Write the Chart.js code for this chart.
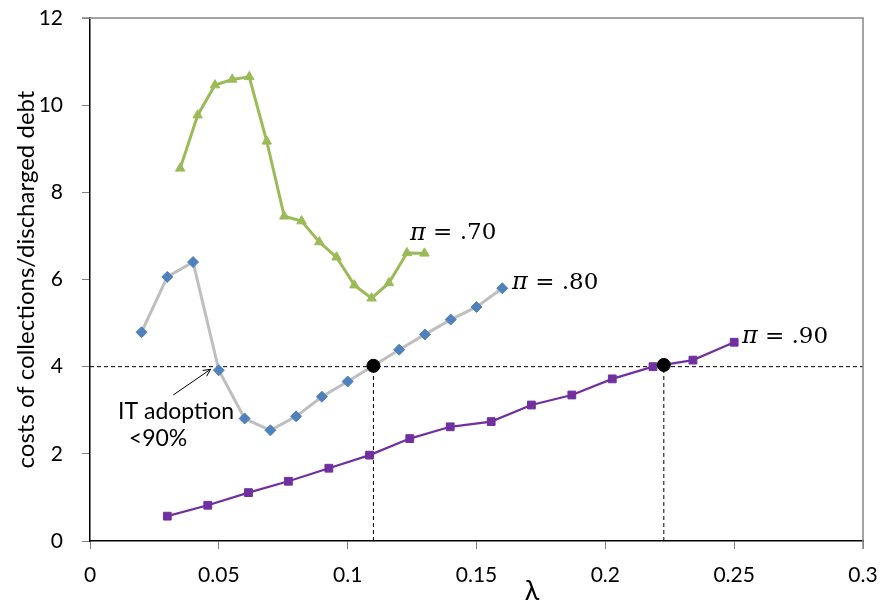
<!DOCTYPE html>
<html lang="en">
<head>
    <meta charset="UTF-8" />
    <title>Costs of collections</title>
    <script src="https://cdn.jsdelivr.net/npm/chart.js"></script>
    <style>
        html, body {
          margin: 0;
          padding: 0;
          background: #ffffff;
        }

        .chart-container {
          width: 881px;
          height: 603px;
        }
    </style>
</head>
<body>

<div class="chart-container">
    <canvas id="costChart"></canvas>
</div>

<script>
    // pi = .70 series (green triangles)
    const lambda70 = [0.035, 0.0418, 0.0485, 0.0552, 0.0618, 0.0686, 0.0754, 0.0821, 0.089, 0.0957, 0.1026, 0.1093, 0.116, 0.123, 0.1298];
    const cost70 = [8.55, 9.77, 10.46, 10.59, 10.65, 9.17, 7.45, 7.34, 6.86, 6.51, 5.87, 5.57, 5.92, 6.61, 6.60];

    // pi = .80 series (blue diamonds on grey line)
    const lambda80 = [0.02, 0.03, 0.04, 0.05, 0.06, 0.07, 0.08, 0.09, 0.10, 0.11, 0.12, 0.13, 0.14, 0.15, 0.16];
    const cost80 = [4.79, 6.06, 6.40, 3.92, 2.81, 2.54, 2.86, 3.31, 3.66, 4.02, 4.39, 4.74, 5.08, 5.37, 5.80];

    // pi = .90 series (purple squares)
    const lambda90 = [0.03, 0.0457, 0.0615, 0.077, 0.0927, 0.1085, 0.1241, 0.1398, 0.1557, 0.1713, 0.187, 0.2027, 0.2185, 0.234, 0.25];
    const cost90 = [0.57, 0.82, 1.11, 1.37, 1.67, 1.97, 2.35, 2.62, 2.74, 3.12, 3.35, 3.72, 4.00, 4.15, 4.56];

    // threshold crossings (black dots) and the cost = 4 guide
    const crossLambda = [0.11, 0.2227];
    const crossCost = [4.02, 4.04];
    const thresholdCost = 4;

    const xTickLabels = ['0', '0.05', '0.1', '0.15', '0.2', '0.25', '0.3'];
    const yTickLabels = ['0', '2', '4', '6', '8', '10', '12'];

    const seriesLabels = ['π = .70', 'π = .80', 'π = .90'];

    function toPoints(xs, ys) {
      return xs.map((x, i) => ({ x: x, y: ys[i] }));
    }

    // drop the label overhang padding so the plot box sits where we want it
    function noOverhang(scale) {
      scale.paddingTop = 0;
      scale.paddingBottom = 0;
      scale.paddingLeft = 0;
      scale.paddingRight = 0;
    }

    const guideStyle = {
      borderColor: '#000000',
      borderWidth: 1,
      borderDash: [4, 3],
      pointRadius: 0,
      showLine: true,
      fill: false
    };

    // extra drawing: frame, series labels, annotation arrow, x title
    const extrasPlugin = {
      id: 'extras',
      afterDatasetsDraw(chart) {
        const ctx = chart.ctx;
        const a = chart.chartArea;
        const xs = chart.scales.x;
        const ys = chart.scales.y;
        ctx.save();

        // grey top / right frame
        ctx.strokeStyle = '#868686';
        ctx.lineWidth = 1.5;
        ctx.beginPath();
        ctx.moveTo(a.left - 8, a.top);
        ctx.lineTo(a.right, a.top);
        ctx.lineTo(a.right, a.bottom + 8);
        ctx.stroke();

        // series labels
        const labelAt = [[0.1242, 7.06], [0.1638, 5.92], [0.253, 4.68]];
        ctx.fillStyle = '#000000';
        ctx.textBaseline = 'middle';
        ctx.textAlign = 'left';
        seriesLabels.forEach((txt, i) => {
          let px = xs.getPixelForValue(labelAt[i][0]);
          const py = ys.getPixelForValue(labelAt[i][1]);
          ctx.font = 'italic 24px "DejaVu Serif"';
          ctx.fillText(txt.charAt(0), px, py);
          px += ctx.measureText(txt.charAt(0)).width;
          ctx.font = '23px "DejaVu Serif"';
          ctx.fillText(txt.slice(1), px, py);
        });

        // IT adoption note
        ctx.font = '23px Lato';
        ctx.textAlign = 'center';
        ctx.fillText('IT adoption', xs.getPixelForValue(0.0334), ys.getPixelForValue(2.96));
        ctx.fillText('<90%', xs.getPixelForValue(0.0264), ys.getPixelForValue(2.36));

        // arrow to the 0.05 point
        const x1 = xs.getPixelForValue(0.0323), y1 = ys.getPixelForValue(3.35);
        const x2 = xs.getPixelForValue(0.0468), y2 = ys.getPixelForValue(3.94);
        const ang = Math.atan2(y2 - y1, x2 - x1);
        ctx.strokeStyle = '#000000';
        ctx.lineWidth = 1;
        ctx.beginPath();
        ctx.moveTo(x1, y1);
        ctx.lineTo(x2, y2);
        ctx.moveTo(x2 - 8 * Math.cos(ang - 0.45), y2 - 8 * Math.sin(ang - 0.45));
        ctx.lineTo(x2, y2);
        ctx.lineTo(x2 - 8 * Math.cos(ang + 0.45), y2 - 8 * Math.sin(ang + 0.45));
        ctx.stroke();

        // x axis title
        ctx.font = '27px Lato';
        ctx.textBaseline = 'alphabetic';
        ctx.fillText('λ', 532, 600);

        ctx.restore();
      }
    };

    const ctx = document.getElementById('costChart').getContext('2d');

    const chart = new Chart(ctx, {
      type: 'scatter',
      data: {
        datasets: [
          {
            label: 'crossings',
            data: toPoints(crossLambda, crossCost),
            pointStyle: 'circle',
            pointRadius: 6.5,
            pointBackgroundColor: '#000000',
            pointBorderColor: '#000000',
            showLine: false
          },
          {
            label: seriesLabels[0],
            data: toPoints(lambda70, cost70),
            showLine: true,
            borderColor: '#9BBB59',
            borderWidth: 3,
            pointStyle: 'triangle',
            pointRadius: 5.5,
            pointBackgroundColor: '#9BBB59',
            pointBorderColor: '#9BBB59',
            pointBorderWidth: 1
          },
          {
            label: seriesLabels[1],
            data: toPoints(lambda80, cost80),
            showLine: true,
            borderColor: '#BFBFBF',
            borderWidth: 3,
            pointStyle: 'rectRot',
            pointRadius: 5.5,
            pointBackgroundColor: '#4F81BD',
            pointBorderColor: '#4F81BD',
            pointBorderWidth: 1
          },
          {
            label: seriesLabels[2],
            data: toPoints(lambda90, cost90),
            showLine: true,
            borderColor: '#7030A0',
            borderWidth: 2.2,
            pointStyle: 'rect',
            pointRadius: 5.5,
            pointBackgroundColor: '#7030A0',
            pointBorderColor: '#7030A0',
            pointBorderWidth: 1
          },
          Object.assign({ label: 'guide', data: [{ x: 0, y: thresholdCost }, { x: 0.3, y: thresholdCost }] }, guideStyle),
          Object.assign({ label: 'guide', data: [{ x: crossLambda[0], y: 0 }, { x: crossLambda[0], y: thresholdCost }] }, guideStyle),
          Object.assign({ label: 'guide', data: [{ x: crossLambda[1], y: 0 }, { x: crossLambda[1], y: thresholdCost }] }, guideStyle)
        ]
      },
      options: {
        responsive: true,
        maintainAspectRatio: false,
        animation: false,
        layout: {
          padding: { top: 18, right: 18, left: 0, bottom: 0 }
        },
        plugins: {
          legend: { display: false },
          tooltip: { enabled: false }
        },
        scales: {
          x: {
            type: 'linear',
            min: 0,
            max: 0.3,
            afterFit: (scale) => { scale.height = 62; noOverhang(scale); },
            afterBuildTicks: (scale) => {
              scale.ticks = xTickLabels.map(t => ({ value: parseFloat(t) }));
            },
            ticks: {
              color: '#000000',
              font: { family: 'Lato', size: 21 },
              padding: 14,
              maxRotation: 0,
              callback: (value, index) => xTickLabels[index]
            },
            grid: {
              drawOnChartArea: false,
              drawTicks: true,
              tickLength: 8,
              color: '#808080'
            },
            border: { color: '#000000', width: 1.5 }
          },
          y: {
            type: 'linear',
            min: 0,
            max: 12,
            afterFit: (scale) => { scale.width = 90; noOverhang(scale); },
            afterBuildTicks: (scale) => {
              scale.ticks = yTickLabels.map(t => ({ value: parseFloat(t) }));
            },
            ticks: {
              color: '#000000',
              font: { family: 'Lato', size: 21 },
              padding: 19,
              callback: (value, index) => yTickLabels[index]
            },
            grid: {
              drawOnChartArea: false,
              drawTicks: true,
              tickLength: 8,
              color: '#808080'
            },
            border: { color: '#000000', width: 1.5 },
            title: {
              display: true,
              text: 'costs of collections/discharged debt',
              color: '#000000',
              font: { family: 'Lato', size: 24 },
              padding: { top: 12, bottom: 0 }
            }
          }
        }
      },
      plugins: [extrasPlugin]
    });
</script>

</body>
</html>
